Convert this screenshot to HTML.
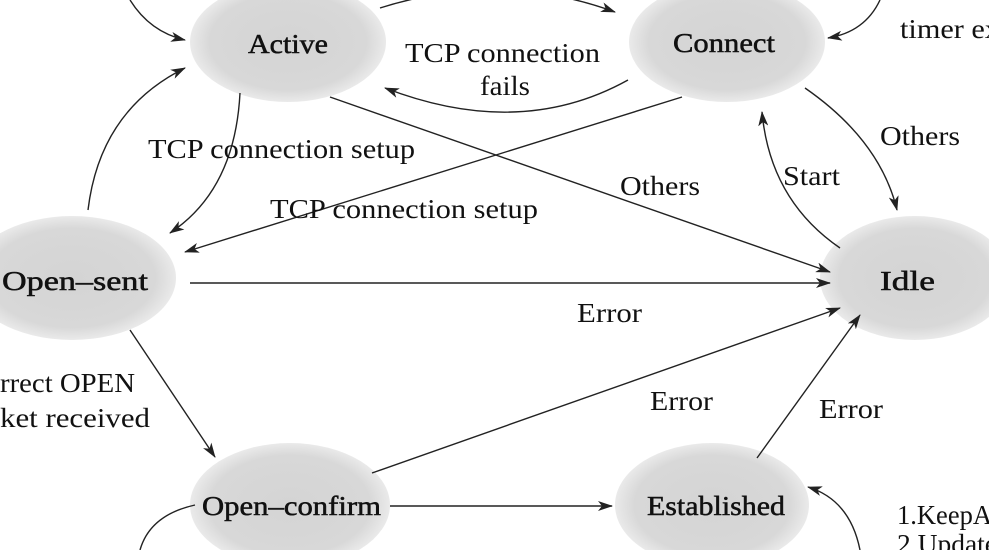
<!DOCTYPE html>
<html><head><meta charset="utf-8"><style>
html,body{margin:0;padding:0;background:#fff;}
svg{display:block;}
text{font-family:"Liberation Serif",serif;font-size:27px;fill:#111;}
.n{stroke:#111;stroke-width:0.5;}
</style></head><body>
<svg width="989" height="550" viewBox="0 0 989 550" xmlns="http://www.w3.org/2000/svg">
<defs>
<radialGradient id="g" cx="50%" cy="50%" r="50%">
<stop offset="0%" stop-color="#d4d4d4"/>
<stop offset="80%" stop-color="#d8d8d8"/>
<stop offset="100%" stop-color="#eaeaea"/>
</radialGradient>
<marker id="a" markerWidth="15" markerHeight="10" refX="14" refY="5" orient="auto" markerUnits="userSpaceOnUse">
<path d="M0,0 L15,5 L0,10 L4,5 Z" fill="#222"/>
</marker>
</defs>
<g fill="url(#g)">
<ellipse cx="288" cy="42" rx="98" ry="60"/>
<ellipse cx="727" cy="42" rx="98" ry="60"/>
<ellipse cx="72" cy="278" rx="104" ry="62"/>
<ellipse cx="915" cy="278" rx="95" ry="62"/>
<ellipse cx="290" cy="505" rx="100" ry="62"/>
<ellipse cx="712" cy="505" rx="97" ry="62"/>
</g>
<g fill="none" stroke="#222" stroke-width="1.4" marker-end="url(#a)">
<path d="M380,8 Q500,-30 615,12"/>
<path d="M130,0 Q150,32 185,40"/>
<path d="M880,0 Q865,32 828,38"/>
<path d="M628,80 Q520,140 385,88"/>
<path d="M240,93 Q235,190 170,233"/>
<path d="M88,210 Q100,110 185,68"/>
<path d="M682,97 L185,252"/>
<path d="M330,97 L830,272"/>
<path d="M805,88 Q880,140 897,210"/>
<path d="M840,248 Q770,200 762,112"/>
<path d="M190,283 L830,283"/>
<path d="M130,330 L215,457"/>
<path d="M372,473 L840,308"/>
<path d="M757,458 L860,315"/>
<path d="M390,506 L612,506"/>
<path d="M860,550 Q850,500 808,487"/>
</g>
<path d="M195,505 Q150,515 140,550" fill="none" stroke="#222" stroke-width="1.4"/>
<g lengthAdjust="spacingAndGlyphs">
<text class="n" x="248" y="53" textLength="80" lengthAdjust="spacingAndGlyphs">Active</text>
<text class="n" x="673" y="52" textLength="102" lengthAdjust="spacingAndGlyphs">Connect</text>
<text class="n" x="2" y="290" textLength="146" lengthAdjust="spacingAndGlyphs">Open–sent</text>
<text class="n" x="880" y="290" textLength="55" lengthAdjust="spacingAndGlyphs">Idle</text>
<text class="n" x="202" y="515" textLength="179" lengthAdjust="spacingAndGlyphs">Open–confirm</text>
<text class="n" x="647" y="515" textLength="138" lengthAdjust="spacingAndGlyphs">Established</text>
<text x="900" y="38" textLength="100" lengthAdjust="spacingAndGlyphs">timer ex</text>
<text x="405" y="62" textLength="195" lengthAdjust="spacingAndGlyphs">TCP connection</text>
<text x="480" y="95" textLength="50" lengthAdjust="spacingAndGlyphs">fails</text>
<text x="148" y="158" textLength="267" lengthAdjust="spacingAndGlyphs">TCP connection setup</text>
<text x="270" y="218" textLength="268" lengthAdjust="spacingAndGlyphs">TCP connection setup</text>
<text x="620" y="195" textLength="80" lengthAdjust="spacingAndGlyphs">Others</text>
<text x="880" y="145" textLength="80" lengthAdjust="spacingAndGlyphs">Others</text>
<text x="783" y="185" textLength="57" lengthAdjust="spacingAndGlyphs">Start</text>
<text x="577" y="322" textLength="65" lengthAdjust="spacingAndGlyphs">Error</text>
<text x="0" y="392" textLength="135" lengthAdjust="spacingAndGlyphs">rrect OPEN</text>
<text x="0" y="427" textLength="150" lengthAdjust="spacingAndGlyphs">ket received</text>
<text x="650" y="410" textLength="63" lengthAdjust="spacingAndGlyphs">Error</text>
<text x="819" y="418" textLength="64" lengthAdjust="spacingAndGlyphs">Error</text>
<text x="897" y="524" textLength="95" lengthAdjust="spacingAndGlyphs">1.KeepA</text>
<text x="897" y="553" textLength="100" lengthAdjust="spacingAndGlyphs">2.Update</text>
</g>
</svg>
</body></html>
